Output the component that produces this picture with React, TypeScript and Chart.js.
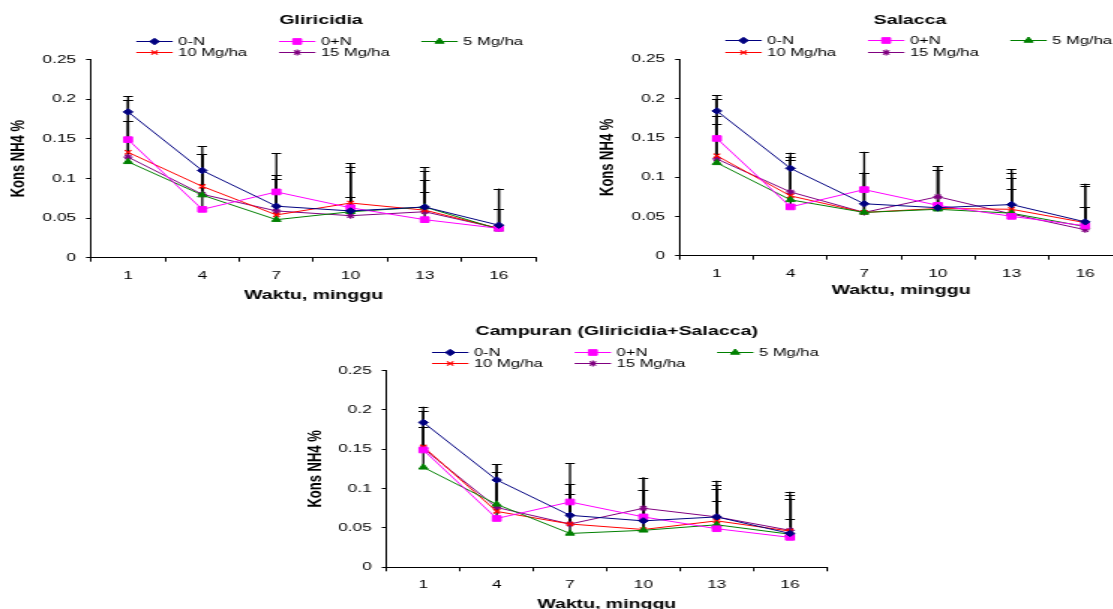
import React, { useEffect, useRef } from 'react';
import { Chart, registerables } from 'chart.js';
import { drawPoint } from 'chart.js/helpers';

Chart.register(...registerables);

// ---------- data ----------
const weeks = ['1', '4', '7', '10', '13', '16'];
const seriesLabels = ['0-N', '0+N', '5 Mg/ha', '10 Mg/ha', '15 Mg/ha'];
const yTickValues = [0, 0.05, 0.1, 0.15, 0.2, 0.25];

// Gliricidia
const glir0N = [0.184, 0.110, 0.065, 0.059, 0.064, 0.041];
const glir0PN = [0.149, 0.061, 0.083, 0.063, 0.048, 0.037];
const glir5 = [0.121, 0.079, 0.048, 0.058, 0.064, 0.036];
const glir10 = [0.133, 0.090, 0.054, 0.069, 0.060, 0.037];
const glir15 = [0.127, 0.080, 0.059, 0.053, 0.058, 0.037];
const glir0NErr = [0.020, 0.031, 0.067, 0.0605, 0.050, 0.046];
const glir0PNErr = [0.0235, 0.070, 0.021, 0.052, 0.035, 0.024];
const glir5Err = [0.0515, 0.052, 0.051, 0.019, 0.045, 0.025];
const glir10Err = [0.066, 0.041, 0.045, 0.0395, 0.038, 0.050];
const glir15Err = [0.072, 0.051, 0.045, 0.024, 0.040, 0.024];

// Salacca
const sal0N = [0.184, 0.111, 0.066, 0.061, 0.065, 0.043];
const sal0PN = [0.149, 0.062, 0.084, 0.064, 0.050, 0.038];
const sal5 = [0.118, 0.071, 0.055, 0.059, 0.054, 0.037];
const sal10 = [0.127, 0.076, 0.055, 0.060, 0.059, 0.042];
const sal15 = [0.123, 0.081, 0.055, 0.075, 0.053, 0.033];
const sal0NErr = [0.020, 0.020, 0.066, 0.053, 0.045, 0.0485];
const sal0PNErr = [0.029, 0.060, 0.0215, 0.045, 0.0345, 0.0235];
const sal5Err = [0.049, 0.051, 0.0505, 0.050, 0.045, 0.0245];
const sal10Err = [0.072, 0.050, 0.0505, 0.049, 0.0465, 0.046];
const sal15Err = [0.076, 0.045, 0.0505, 0.039, 0.046, 0.0285];

// Campuran (Gliricidia+Salacca)
const mix0N = [0.184, 0.111, 0.066, 0.059, 0.064, 0.043];
const mix0PN = [0.149, 0.062, 0.083, 0.064, 0.049, 0.038];
const mix5 = [0.127, 0.080, 0.043, 0.047, 0.054, 0.042];
const mix10 = [0.153, 0.071, 0.055, 0.048, 0.059, 0.046];
const mix15 = [0.151, 0.076, 0.055, 0.075, 0.064, 0.047];
const mix0NErr = [0.020, 0.020, 0.066, 0.055, 0.046, 0.053];
const mix0PNErr = [0.0296, 0.059, 0.0224, 0.034, 0.035, 0.0234];
const mix5Err = [0.0516, 0.041, 0.0505, 0.051, 0.045, 0.0453];
const mix10Err = [0.0456, 0.050, 0.0385, 0.050, 0.0455, 0.0455];
const mix15Err = [0.0476, 0.055, 0.0504, 0.039, 0.035, 0.0403];

// ---------- styles ----------
const SX = 1.5; // horizontal stretch of the original picture
const FONT = "'Liberation Sans', Arial, Helvetica, sans-serif";
const seriesColors = ['#000080', '#FF00FF', '#008000', '#FF0000', '#800080'];
const seriesMarkers = ['rectRot', 'rect', 'triangle', 'crossRot', 'star'];
const seriesRadius = [3.2, 4, 3.5, 3, 3];
const seriesFilled = [true, true, true, false, false];

const errorBarPlugin = {
  id: 'errorBars',
  beforeDatasetsDraw(chart: any) {
    const ctx = chart.ctx;
    const xs = chart.scales.x;
    const ys = chart.scales.y;
    ctx.save();
    ctx.strokeStyle = '#000';
    chart.data.datasets.forEach((ds: any) => {
      const errs = ds.errorPlus;
      if (!errs) return;
      ds.data.forEach((v: number, j: number) => {
        const px = xs.getPixelForValue(j);
        const y0 = ys.getPixelForValue(v);
        const y1 = ys.getPixelForValue(v + errs[j]);
        ctx.lineWidth = 1.3;
        ctx.beginPath();
        ctx.moveTo(px, y0);
        ctx.lineTo(px, y1);
        ctx.stroke();
        ctx.lineWidth = 1;
        const cy = Math.round(y1) + 0.5;
        ctx.beginPath();
        ctx.moveTo(px - 3.2, cy);
        ctx.lineTo(px + 3.2, cy);
        ctx.stroke();
      });
    });
    ctx.restore();
  },
};

const decorPlugin = {
  id: 'panelDecor',
  afterDraw(chart: any, _args: any, opts: any) {
    const ctx = chart.ctx;
    const a = chart.chartArea;
    ctx.save();
    ctx.fillStyle = '#000';
    ctx.font = `bold 13px ${FONT}`;
    ctx.textAlign = 'center';
    ctx.textBaseline = 'middle';
    ctx.fillText(opts.title, a.left + 153.3, a.top - 38.8);
    ctx.font = `11px ${FONT}`;
    ctx.textAlign = 'left';
    const colX = [30.2, 125.3, 220.2];
    const rowY = [-19, -7.2];
    chart.data.datasets.forEach((ds: any, i: number) => {
      const x0 = a.left + colX[i % 3];
      const yy = Math.round(a.top + rowY[Math.floor(i / 3)]) + 0.5;
      ctx.strokeStyle = ds.borderColor;
      ctx.lineWidth = 1;
      ctx.beginPath();
      ctx.moveTo(x0, yy);
      ctx.lineTo(x0 + 24.3, yy);
      ctx.stroke();
      ctx.fillStyle = ds.pointBackgroundColor;
      ctx.strokeStyle = ds.pointBorderColor;
      ctx.lineWidth = ds.pointBorderWidth;
      drawPoint(ctx, { pointStyle: ds.pointStyle, radius: ds.pointRadius, borderWidth: ds.pointBorderWidth, rotation: 0 } as any, x0 + 12.15, yy);
      ctx.fillStyle = '#000';
      ctx.fillText(ds.label, x0 + 28, yy);
    });
    ctx.restore();
  },
};

type PanelCfg = {
  title: string;
  values: number[][];
  errors: number[][];
  left: number;
  top: number;
  cw: number;
  ch: number;
  yScaleWidth: number;
  padTop: number;
  padRight: number;
  xScaleHeight: number;
  yTitlePad: number;
  xTitlePad: number;
};

const panels: PanelCfg[] = [
  {
    title: 'Gliricidia',
    values: [glir0N, glir0PN, glir5, glir10, glir15],
    errors: [glir0NErr, glir0PNErr, glir5Err, glir10Err, glir15Err],
    left: 0, top: 0, cw: 372, ch: 305,
    yScaleWidth: 60.67, padTop: 59.6, padRight: 14.7, xScaleHeight: 47.3,
    yTitlePad: 4.47, xTitlePad: 2.2,
  },
  {
    title: 'Salacca',
    values: [sal0N, sal0PN, sal5, sal10, sal15],
    errors: [sal0NErr, sal0PNErr, sal5Err, sal10Err, sal15Err],
    left: 556, top: 0, cw: 392, ch: 305,
    yScaleWidth: 82.67, padTop: 59, padRight: 14.67, xScaleHeight: 49.3,
    yTitlePad: 26.6, xTitlePad: 6.7,
  },
  {
    title: 'Campuran (Gliricidia+Salacca)',
    values: [mix0N, mix0PN, mix5, mix10, mix15],
    errors: [mix0NErr, mix0PNErr, mix5Err, mix10Err, mix15Err],
    left: 300, top: 310, cw: 373, ch: 320,
    yScaleWidth: 57.8, padTop: 60.5, padRight: 21.87, xScaleHeight: 62.7,
    yTitlePad: 2.87, xTitlePad: 17.6,
  },
];

function Panel({ cfg }: { cfg: PanelCfg }) {
  const ref = useRef<HTMLCanvasElement>(null);
  useEffect(() => {
    const datasets = seriesLabels.map((label, i) => ({
      label,
      data: cfg.values[i],
      errorPlus: cfg.errors[i],
      borderColor: seriesColors[i],
      backgroundColor: seriesColors[i],
      pointBackgroundColor: seriesFilled[i] ? seriesColors[i] : 'rgba(0,0,0,0)',
      pointBorderColor: seriesColors[i],
      pointStyle: seriesMarkers[i],
      pointRadius: seriesRadius[i],
      pointBorderWidth: seriesFilled[i] ? 1 : 1.2,
      borderWidth: 1,
      tension: 0,
      fill: false,
    }));
    const chart = new Chart(ref.current as HTMLCanvasElement, {
      type: 'line',
      data: { labels: weeks, datasets: datasets as any },
      options: {
        responsive: false,
        animation: false,
        events: [],
        layout: { padding: { left: 0, top: cfg.padTop, right: cfg.padRight, bottom: 0 } },
        plugins: {
          legend: { display: false },
          title: { display: false },
          tooltip: { enabled: false },
          panelDecor: { title: cfg.title },
        } as any,
        scales: {
          x: {
            type: 'category',
            offset: true,
            grid: { offset: true, drawOnChartArea: false, drawTicks: true, tickLength: 4, color: '#000', lineWidth: 1 },
            border: { display: true, color: '#000', width: 1 },
            ticks: { color: '#000', font: { family: FONT, size: 11.5 }, padding: 7, maxRotation: 0, autoSkip: false },
            title: {
              display: true,
              text: 'Waktu, minggu',
              color: '#000',
              font: { family: FONT, size: 13, weight: 'bold' },
              padding: { top: 0, bottom: cfg.xTitlePad },
            },
            afterFit: (s: any) => { s.height = cfg.xScaleHeight; },
          },
          y: {
            type: 'linear',
            min: 0,
            max: 0.25,
            afterBuildTicks: (s: any) => { s.ticks = yTickValues.map((v) => ({ value: v })); },
            grid: { drawOnChartArea: false, drawTicks: true, tickLength: 3.3, color: '#000', lineWidth: 1 },
            border: { display: true, color: '#000', width: 1 },
            ticks: {
              color: '#000',
              font: { family: FONT, size: 11.5 },
              padding: 6.7,
              callback: (v: any) => String(Number(Number(v).toFixed(2))),
            },
            title: {
              display: true,
              text: 'Kons NH4 %',
              color: '#000',
              font: { family: FONT, size: 13, weight: 'bold' },
              padding: { top: cfg.yTitlePad, bottom: 0 },
            },
            afterFit: (s: any) => { s.width = cfg.yScaleWidth; },
          },
        } as any,
      },
      plugins: [errorBarPlugin, decorPlugin] as any,
    });
    return () => chart.destroy();
  }, [cfg]);
  return (
    <div
      style={{
        position: 'absolute',
        left: cfg.left,
        top: cfg.top,
        width: cfg.cw,
        height: cfg.ch,
        transform: `scaleX(${SX})`,
        transformOrigin: '0 0',
      }}
    >
      <canvas ref={ref} width={cfg.cw} height={cfg.ch} />
    </div>
  );
}

export default function App() {
  return (
    <div
      style={{
        position: 'absolute',
        left: 0,
        top: 0,
        width: 1113,
        height: 609,
        overflow: 'hidden',
        background: '#fff',
      }}
    >
      {panels.map((p) => (
        <Panel key={p.title} cfg={p} />
      ))}
    </div>
  );
}
